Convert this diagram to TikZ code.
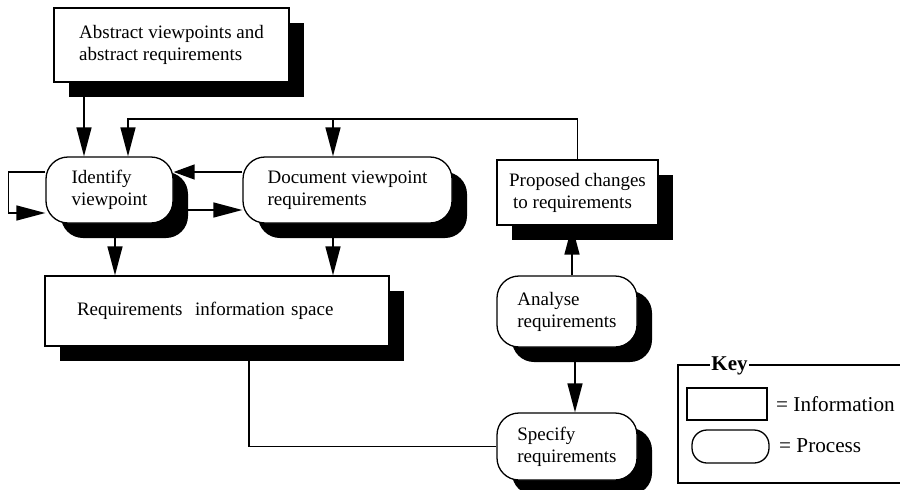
\documentclass[tikz,border=0pt]{standalone}
\usepackage{fontspec}
\setmainfont{Liberation Serif}
\usetikzlibrary{arrows.meta,shadows,backgrounds}

\tikzset{
  base/.style={draw, fill=white, line width=1.3pt, inner sep=0pt,
    font=\fontsize{19}{22}\selectfont, align=left,
    drop shadow={shadow xshift=15pt, shadow yshift=-15pt, fill=black, opacity=1}},
  info/.style={base, rectangle},
  process/.style={base, rectangle, rounded corners=22pt},
  arr/.style={line width=1.4pt, -{Triangle[length=29pt,width=15pt]}},
  link/.style={line width=1.4pt},
  keytext/.style={font=\fontsize{21.2}{24}\selectfont, inner sep=0pt, anchor=west}
}

\begin{document}
\begin{tikzpicture}[x=1pt, y=-1pt]
\useasboundingbox (0,0) rectangle (900,490);

% information items and processes
\node[info, minimum width=235pt, minimum height=74pt] (abs) at (171.5,45)
  {Abstract viewpoints and\\abstract requirements};
\node[process, minimum width=127pt, minimum height=66pt] (ident) at (109.5,190)
  {Identify\\viewpoint};
\node[process, minimum width=209pt, minimum height=66pt] (doc) at (347.5,190)
  {Document viewpoint\\requirements};
\node[info, minimum width=161pt, minimum height=65pt] (prop) at (577.5,192.5)
  {Proposed changes\\\hspace*{4pt}to requirements};
\node[info, minimum width=344pt, minimum height=70pt, text width=280pt,
      inner xsep=32pt] (info) at (217,311)
  {Requirements\ \ information space};
\node[process, minimum width=140pt, minimum height=71pt] (ana) at (567,311.5)
  {Analyse\\requirements};
\node[process, minimum width=140pt, minimum height=67pt] (spec) at (567,446.5)
  {Specify\\requirements};

\coordinate (fbtop) at (333,119);

% connectors, kept behind the shadows
\begin{scope}[on background layer]
  \draw[arr] ([xshift=-87.5pt]abs.south) -- ([xshift=-87.5pt]abs.south |- ident.north);
  \draw[arr] (prop.north) |- (fbtop) -| ([xshift=18.5pt]ident.north);
  \draw[arr] (fbtop) -- (fbtop |- doc.north);
  \draw[line width=1.4pt, -{Triangle[length=21pt,width=15pt]}]
    ([yshift=18pt]doc.west) -- ([yshift=18pt]ident.east);
  \draw[arr] ([yshift=-20pt]ident.east) -- ([yshift=-20pt]doc.west);
  \draw[arr] ([yshift=18pt]ident.west) -- ++(-37,0) |- ([yshift=-23pt]ident.west);
  \draw[arr] ([xshift=5.5pt]ident.south) -- ([xshift=5.5pt]ident.south |- info.north);
  \draw[arr] (fbtop |- doc.south) -- (fbtop |- info.north);
  \draw[link] ([xshift=32pt]info.south) |- (spec.west);
  \draw[arr] ([xshift=5pt]ana.north) -- ([xshift=5pt]ana.north |- prop.south);
  \draw[arr] ([xshift=8pt]ana.south) -- ([xshift=8pt]ana.south |- spec.north);
\end{scope}

% key
\node[draw, line width=1.4pt, minimum width=240pt, minimum height=118pt,
      inner sep=0pt] (keybox) at (798,424) {};
\node[fill=white, inner sep=1pt, font=\bfseries\fontsize{21}{24}\selectfont]
  (keytitle) at (729.5,366) {Key};
\node[draw, line width=1.3pt, minimum width=80pt, minimum height=32pt,
      inner sep=0pt] (keyinfo) at (727,404) {};
\node[draw, line width=1.3pt, rounded corners=15pt, minimum width=77pt,
      minimum height=33pt, inner sep=0pt] (keyproc) at (730.5,446.5) {};
\node[keytext] (keyinfotext) at (776,404) {= Information};
\node[keytext] (keyproctext) at (779,446) {= Process};
\end{tikzpicture}
\end{document}
